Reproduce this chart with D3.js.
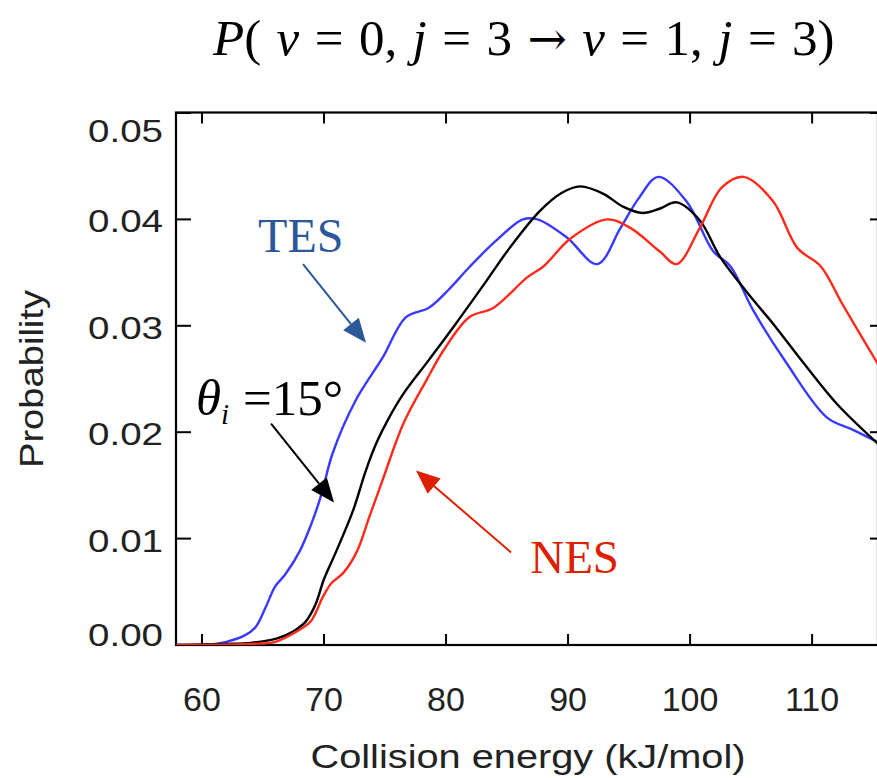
<!DOCTYPE html>
<html>
<head>
<meta charset="utf-8" />
<script src="https://d3js.org/d3.v7.min.js"></script>
<style>
  body { margin: 0; background: #fff; }
  .tick-label { font-family: "Liberation Sans", Arial, sans-serif; fill: #222; }
  .serif { font-family: "Liberation Serif", "Times New Roman", serif; }
</style>
</head>
<body>
<svg id="chart" width="877" height="778"></svg>
<script>
// collision energy (kJ/mol) and probability for each series
var tesEnergy = [57.9, 60, 62, 63.5, 64.4, 65.2, 66.0, 66.8, 68.0, 69.0, 69.8, 70.7, 72.6, 74.8, 76.7, 78.6, 80.3, 81.9, 84.1, 86.3, 87.5, 89.9, 92.4, 94.3, 95.8, 97.4, 99.7, 101.9, 103.3, 105.2, 107.9, 111.2, 113.4, 115.5];
var tesProb   = [0, 0, 0.0003, 0.0009, 0.0017, 0.0035, 0.0055, 0.0066, 0.0088, 0.0115, 0.0142, 0.018, 0.023, 0.027, 0.0308, 0.0317, 0.0335, 0.0355, 0.038, 0.040, 0.040, 0.0383, 0.0358, 0.0392, 0.042, 0.044, 0.0417, 0.037, 0.0356, 0.0314, 0.0265, 0.0214, 0.0202, 0.019];

var bfEnergy = [57.9, 62, 64, 66.1, 67.5, 68.5, 69.3, 70.0, 71.0, 72.4, 73.4, 74.3, 75.3, 76.5, 78.6, 80.8, 83.3, 85.2, 87.7, 89.5, 91.0, 92.9, 94.5, 96.1, 97.5, 98.9, 100.8, 102.5, 105.2, 106.8, 109.3, 112.0, 115.5];
var bfProb   = [0, 0.0001, 0.0002, 0.0006, 0.0013, 0.0022, 0.0038, 0.0062, 0.0088, 0.0127, 0.0163, 0.019, 0.0213, 0.0236, 0.0268, 0.0302, 0.0342, 0.0373, 0.0408, 0.0425, 0.0431, 0.0424, 0.0412, 0.0406, 0.041, 0.0416, 0.0399, 0.0364, 0.0324, 0.0302, 0.0265, 0.0227, 0.0188];

var nesEnergy = [57.9, 64, 66, 67.8, 68.9, 69.9, 70.6, 71.6, 72.7, 73.7, 74.8, 76.5, 78.4, 79.8, 81.9, 83.9, 86.6, 88.0, 90.2, 93.2, 95.1, 97.5, 98.9, 100.8, 102.6, 104.4, 106.8, 108.8, 110.7, 112.5, 115.5];
var nesProb   = [0, 0.0001, 0.0003, 0.0013, 0.0022, 0.0045, 0.0058, 0.0068, 0.0088, 0.012, 0.0155, 0.0208, 0.0249, 0.0277, 0.0308, 0.0317, 0.0345, 0.0356, 0.0382, 0.040, 0.0392, 0.037, 0.0358, 0.0392, 0.043, 0.044, 0.0417, 0.0373, 0.0356, 0.032, 0.0262];

var xTicks = [60, 70, 80, 90, 100, 110];
var yTicks = [0, 0.01, 0.02, 0.03, 0.04, 0.05];

var svg = d3.select("#chart");

var pLeft = 176, pRight = 878, pTop = 112.5, pBottom = 645;

var x = d3.scaleLinear().domain([57.87, 115.4]).range([pLeft, pRight]);
var y = d3.scaleLinear().domain([0, 0.05]).range([pBottom, pTop + 0.5]);

// title
var title = svg.append("text")
    .attr("class", "serif")
    .attr("x", 213)
    .attr("y", 55)
    .attr("font-size", 51)
    .attr("word-spacing", 2.7);
[["P", "i"], ["( ", "n"], ["v", "i"], [" = 0, ", "n"], ["j", "i"], [" = 3 ", "n"], ["\u2192", "a"],
 [" ", "n"], ["v", "i"], [" = 1, ", "n"], ["j", "i"], [" = 3)", "n"]].forEach(function(p) {
    var t = title.append("tspan").text(p[0]);
    if (p[1] === "i") t.attr("font-style", "italic");
    if (p[1] === "a") t.attr("font-family", "DejaVu Serif").attr("font-size", 47);
});

var plot = svg.append("g");

// frame
plot.append("rect")
    .attr("x", pLeft).attr("y", pTop)
    .attr("width", pRight - pLeft).attr("height", pBottom - pTop)
    .attr("fill", "none").attr("stroke", "#000").attr("stroke-width", 2.2);

// inward ticks
xTicks.forEach(function(t) {
    plot.append("line").attr("x1", x(t)).attr("x2", x(t)).attr("y1", pBottom).attr("y2", pBottom - 11)
        .attr("stroke", "#000").attr("stroke-width", 2);
    plot.append("line").attr("x1", x(t)).attr("x2", x(t)).attr("y1", pTop).attr("y2", pTop + 11)
        .attr("stroke", "#000").attr("stroke-width", 2);
    svg.append("text").attr("class", "tick-label")
        .attr("x", x(t)).attr("y", 711)
        .attr("text-anchor", "middle")
        .attr("font-size", 34)
        .text(t);
});
yTicks.forEach(function(t, i) {
    plot.append("line").attr("x1", pLeft).attr("x2", pLeft + 15).attr("y1", y(t)).attr("y2", y(t))
        .attr("stroke", "#000").attr("stroke-width", 2);
    plot.append("line").attr("x1", pRight).attr("x2", pRight - 8).attr("y1", y(t)).attr("y2", y(t))
        .attr("stroke", "#000").attr("stroke-width", 2);
    // end labels sit inside the frame, the others beside their tick
    var shift = i === 0 ? -10 : (i === yTicks.length - 1 ? 18 : 2);
    svg.append("text").attr("class", "tick-label")
        .attr("x", 163).attr("y", y(t) + shift + 11)
        .attr("text-anchor", "end")
        .attr("font-size", 32)
        .attr("textLength", 75)
        .attr("lengthAdjust", "spacingAndGlyphs")
        .text(t.toFixed(2));
});

// axis titles
svg.append("text").attr("class", "tick-label")
    .attr("x", 528).attr("y", 768)
    .attr("text-anchor", "middle")
    .attr("font-size", 34)
    .attr("textLength", 435)
    .attr("lengthAdjust", "spacingAndGlyphs")
    .text("Collision energy (kJ/mol)");
svg.append("text").attr("class", "tick-label")
    .attr("transform", "translate(43,379) rotate(-90)")
    .attr("text-anchor", "middle")
    .attr("font-size", 34)
    .attr("textLength", 178)
    .attr("lengthAdjust", "spacingAndGlyphs")
    .text("Probability");

// curves
var line = d3.line()
    .x(function(d) { return x(d[0]); })
    .y(function(d) { return y(d[1]); })
    .curve(d3.curveCatmullRom.alpha(0.5));

var series = [
    { e: tesEnergy, p: tesProb, color: "#3a3aff" },
    { e: bfEnergy,  p: bfProb,  color: "#000000" },
    { e: nesEnergy, p: nesProb, color: "#ff2a1a" }
];

plot.append("clipPath").attr("id", "clip")
    .append("rect").attr("x", pLeft).attr("y", pTop).attr("width", pRight - pLeft).attr("height", pBottom - pTop);

plot.selectAll(".curve")
    .data(series)
    .enter().append("path")
    .attr("class", "curve")
    .attr("clip-path", "url(#clip)")
    .attr("fill", "none")
    .attr("stroke", function(d) { return d.color; })
    .attr("stroke-width", 2.4)
    .attr("d", function(d) { return line(d.e.map(function(v, i) { return [v, d.p[i]]; })); });

// annotations (data coordinates)
function arrow(from, to, color) {
    var x1 = x(from[0]), y1 = y(from[1]), x2 = x(to[0]), y2 = y(to[1]);
    var ang = Math.atan2(y2 - y1, x2 - x1);
    var len = 24, half = 10;
    var bx = x2 - len * Math.cos(ang), by = y2 - len * Math.sin(ang);
    svg.append("line").attr("x1", x1).attr("y1", y1).attr("x2", bx).attr("y2", by)
        .attr("stroke", color).attr("stroke-width", 2);
    svg.append("polygon")
        .attr("points", [
            [x2, y2],
            [bx + half * Math.sin(ang), by - half * Math.cos(ang)],
            [bx - half * Math.sin(ang), by + half * Math.cos(ang)]
        ].map(function(p) { return p.join(","); }).join(" "))
        .attr("fill", color);
}

svg.append("text").attr("class", "serif")
    .attr("x", x(64.6)).attr("y", y(0.0369))
    .attr("font-size", 48).attr("fill", "#2c5799")
    .text("TES");
arrow([68.28, 0.0358], [73.44, 0.0284], "#2c5799");

var th = svg.append("text").attr("class", "serif")
    .attr("x", x(59.5)).attr("y", y(0.0216))
    .attr("font-size", 51).attr("fill", "#000");
th.append("tspan").attr("font-style", "italic").text("\u03b8");
th.append("tspan").attr("font-style", "italic").attr("font-size", 29).attr("dy", 9).text("i");
th.append("tspan").attr("dy", -9).attr("dx", 14).text("=15\u00b0");
arrow([65.66, 0.0208], [70.82, 0.0134], "#000");

svg.append("text").attr("class", "serif")
    .attr("x", x(86.9)).attr("y", y(0.0068))
    .attr("font-size", 47).attr("fill", "#dd2000")
    .text("NES");
arrow([85.33, 0.0087], [77.54, 0.0164], "#dd2000");
</script>
</body>
</html>
